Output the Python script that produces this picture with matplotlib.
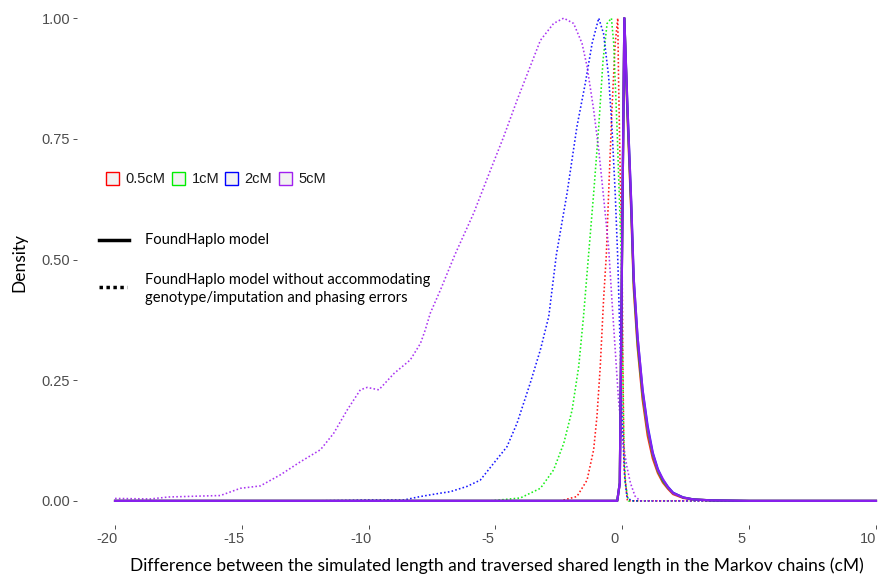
import matplotlib
matplotlib.use("Agg")
import matplotlib.pyplot as plt
import matplotlib.transforms as mtransforms
from matplotlib.patches import Rectangle
from matplotlib.lines import Line2D

W, H = 879, 579

# --- data ---
labels = ["0.5cM", "1cM", "2cM", "5cM"]
colors = ["#ff0000", "#00ee00", "#0000ff", "#a020f0"]

# FoundHaplo model (solid)
solid_x = [-20, -0.2, -0.1, 0.08, 0.2, 0.35, 0.45, 0.6, 0.8, 1.0, 1.2, 1.4, 1.6, 1.8, 2.0, 2.4, 2.8, 3.5, 5, 10]
solid_red = [0, 0, 0.037, 1.0, 0.8, 0.6, 0.44, 0.32, 0.21, 0.135, 0.088, 0.058, 0.038, 0.025, 0.014, 0.006, 0.003, 0.001, 0, 0]
solid_green = [0, 0, 0.037, 1.0, 0.81, 0.61, 0.45, 0.33, 0.22, 0.145, 0.095, 0.062, 0.041, 0.027, 0.016, 0.007, 0.003, 0.001, 0, 0]
solid_blue = [0, 0, 0.037, 1.0, 0.82, 0.62, 0.46, 0.34, 0.23, 0.155, 0.1, 0.066, 0.044, 0.029, 0.017, 0.007, 0.003, 0.001, 0, 0]
solid_purple = [0, 0, 0.037, 1.0, 0.82, 0.62, 0.46, 0.34, 0.228, 0.15, 0.098, 0.064, 0.045, 0.028, 0.016, 0.007, 0.003, 0.001, 0, 0]

# model without accommodating errors (dotted)
red_x = [-20, -2.44, -1.79, -1.39, -1.13, -1.0, -0.87, -0.74, -0.63, -0.54, -0.41, -0.28, -0.18,
         -0.15, -0.08, -0.01, 0.03, 0.07, 0.2, 10]
red_y = [0, 0, 0.009, 0.043, 0.106, 0.175, 0.278, 0.416, 0.51, 0.637, 0.81, 0.948, 1.0,
         0.879, 0.67, 0.502, 0.25, 0.07, 0, 0]

green_x = [-20, -5.2, -4.02, -3.23, -2.71, -2.31, -1.98, -1.72, -1.53, -1.33, -1.13, -0.93, -0.76,
           -0.6, -0.43, -0.34, -0.21, -0.1, -0.04, 0.0, 0.05, 0.12, 0.24, 10]
green_y = [0, 0, 0.006, 0.026, 0.064, 0.119, 0.188, 0.278, 0.382, 0.51, 0.637, 0.775, 0.913,
           0.989, 1.0, 0.948, 0.775, 0.6, 0.502, 0.35, 0.15, 0.037, 0, 0]

blue_x = [-20, -12, -10, -8.6, -7.96, -7.17, -6.78, -6.12, -5.6, -5.07, -4.55, -4.15, -3.63, -3.23,
          -2.9, -2.6, -2.18, -1.79, -1.46, -1.19, -0.93, -0.74, -0.54, -0.41, -0.28, -0.18, -0.08,
          -0.01, 0.09, 0.18, 0.35, 10]
blue_y = [0, 0, 0.002, 0.002, 0.009, 0.016, 0.019, 0.03, 0.043, 0.078, 0.112, 0.161, 0.244, 0.313,
          0.382, 0.51, 0.637, 0.775, 0.865, 0.948, 1.0, 0.968, 0.879, 0.775, 0.637, 0.502, 0.31,
          0.175, 0.05, 0.009, 0, 0]

purple_x = [-20, -18.6, -17.9, -16.6, -15.85, -15.06, -14.27, -13.48, -12.69, -11.9, -11.38, -10.85,
            -10.33, -10.06, -9.6, -9.0, -8.36, -7.96, -7.77, -7.57, -7.17, -6.6, -5.86, -5.2, -4.68,
            -4.15, -3.63, -3.23, -2.71, -2.31, -1.92, -1.59, -1.39, -1.13, -0.93, -0.74, -0.54,
            -0.41, -0.28, -0.15, -0.01, 0.18, 0.32, 0.5, 0.7, 10]
purple_y = [0.005, 0.004, 0.008, 0.01, 0.011, 0.026, 0.031, 0.054, 0.081, 0.106, 0.14, 0.188,
            0.23, 0.235, 0.23, 0.264, 0.292, 0.326, 0.354, 0.389, 0.437, 0.51, 0.596, 0.685, 0.754,
            0.83, 0.9, 0.954, 0.989, 1.0, 0.989, 0.948, 0.9, 0.81, 0.727, 0.63, 0.525,
            0.416, 0.313, 0.209, 0.133, 0.071, 0.037, 0.01, 0, 0]

x_ticks = [-20, -15, -10, -5, 0, 5, 10]
y_ticks = [0.0, 0.25, 0.5, 0.75, 1.0]


def px(x, y):
    return x / W, 1 - y / H


fig = plt.figure(figsize=(W / 100, H / 100), dpi=100)
# panel is partly cropped on the right and top, like the reference
ax = fig.add_axes([77 / W, (H - 525) / H, (914 - 77) / W, (525 + 6) / H])
ax.set_xlim(-21.5, 11.5)
ax.set_ylim(-0.05, 1.05)

dotted = [(red_x, red_y), (green_x, green_y), (blue_x, blue_y), (purple_x, purple_y)]
for (xs, ys), c in zip(dotted, colors):
    ax.plot(xs, ys, color=c, lw=1.15, ls=(0, (1, 1.4)), alpha=0.9)

for ys, c in zip([solid_red, solid_green, solid_blue, solid_purple], colors):
    ax.plot(solid_x, ys, color=c, lw=1.6, alpha=0.85)

for s in ax.spines.values():
    s.set_visible(False)
ax.set_xticks(x_ticks)
ax.set_xticklabels([str(t) for t in x_ticks])
ax.set_yticks(y_ticks)
ax.set_yticklabels(["%.2f" % t for t in y_ticks])
ax.tick_params(colors="#333333", labelcolor="#4d4d4d", length=3, width=0.6, pad=2)
shift = mtransforms.ScaledTranslation(-8 / 100, 0, fig.dpi_scale_trans)
for lab in ax.get_xticklabels():
    lab.set_transform(lab.get_transform() + shift)
for lab in ax.get_xticklabels() + ax.get_yticklabels():
    lab.set_fontfamily("Liberation Sans")
    lab.set_fontsize(10.5)

fig.text(*px(497, 566), "Difference between the simulated length and traversed shared length in the Markov chains (cM)",
         family="Lato", fontsize=12.5, ha="center", va="center", color="black")
fig.text(*px(19, 262), "Density", family="Lato", fontsize=12.5, rotation=90,
         ha="center", va="center", color="black")

# colour legend
sq_x = [106, 172, 225, 279]
txt_x = [125, 192, 244, 298]
for sx, tx, c, lab in zip(sq_x, txt_x, colors, labels):
    fx, fy = px(sx, 185)
    fig.patches.append(Rectangle((fx, fy), 13 / W, 13 / H, transform=fig.transFigure,
                                 facecolor="#f2f2f2", edgecolor=c, lw=1.0))
    fig.text(*px(tx, 179), lab, family="Liberation Sans", fontsize=10.5,
             ha="left", va="center", color="#1a1a1a")

# linetype legend
x0, y0 = px(99, 240)
x1, _ = px(129, 240)
fig.lines.append(Line2D([x0, x1], [y0, y0], transform=fig.transFigure, color="black", lw=2.5))
x0, y0 = px(99, 287)
x1, _ = px(127, 287)
fig.lines.append(Line2D([x0, x1], [y0, y0], transform=fig.transFigure, color="black", lw=2.5,
                        ls=(0, (1, 1))))
fig.text(*px(145, 240), "FoundHaplo model", family="Lato", fontsize=10.6,
         ha="left", va="center", color="black")
fig.text(*px(145, 289), "FoundHaplo model without accommodating\ngenotype/imputation and phasing errors",
         family="Lato", fontsize=10.6, ha="left", va="center", color="black", linespacing=1.3)

fig.savefig("out.png", dpi=100)
